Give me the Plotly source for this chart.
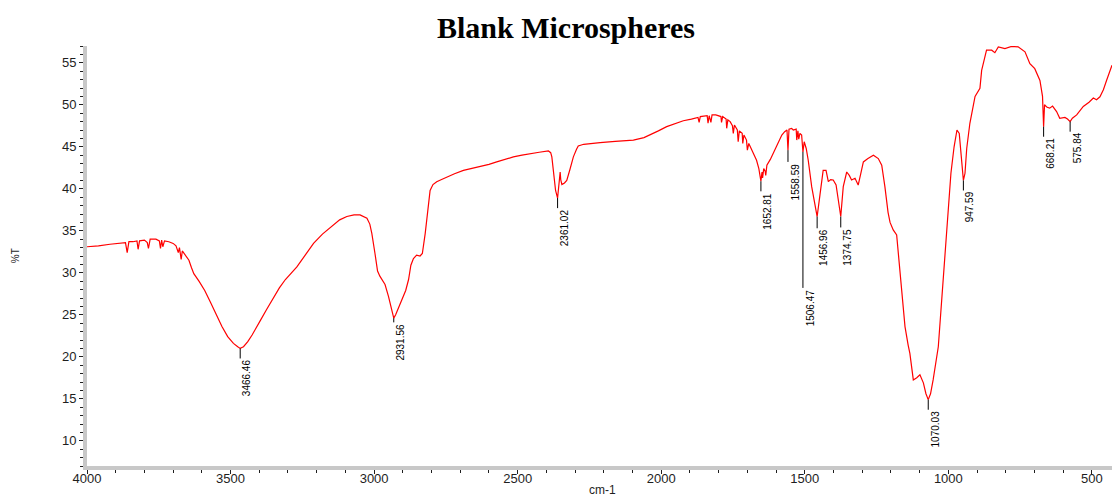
import numpy as np
import plotly.graph_objects as go

# FTIR spectrum of blank microspheres: wavenumber (cm-1) and transmittance (%T)
wavenumber = [
    4000, 3960, 3920, 3900, 3880, 3866, 3860, 3854, 3840, 3826, 3822, 3817,
    3800, 3790, 3786, 3780, 3760, 3748, 3744, 3740, 3736, 3730, 3715, 3700,
    3690, 3682, 3678, 3672, 3668, 3655, 3645, 3636, 3628, 3610, 3590, 3570,
    3550, 3530, 3510, 3490, 3475, 3466.46, 3455, 3440, 3425, 3414, 3395, 3375,
    3350, 3330, 3309, 3290, 3269, 3240, 3211, 3180, 3142, 3120, 3095, 3070,
    3049, 3035, 3025, 3015, 3008, 2997, 2988, 2980, 2972, 2962, 2950, 2940,
    2931.56, 2925, 2915, 2900, 2890, 2880, 2872, 2863, 2852, 2840, 2832, 2822,
    2812, 2805, 2795, 2782, 2765, 2747, 2720, 2689, 2660, 2631, 2600, 2573,
    2545, 2515, 2485, 2457, 2425, 2393, 2385, 2381, 2375, 2368, 2361.02, 2358,
    2355, 2352, 2350, 2346, 2337, 2329, 2318, 2306, 2295, 2289, 2270, 2247,
    2213, 2160, 2097, 2060, 2039, 2010, 1981, 1950, 1923, 1895, 1872, 1868,
    1864, 1840, 1837, 1833, 1827, 1823, 1810, 1792, 1790, 1786, 1774, 1772,
    1768, 1760, 1752, 1749, 1745, 1735, 1732, 1728, 1718, 1716, 1712, 1703,
    1700, 1695, 1685, 1675, 1668, 1660, 1655, 1652.81, 1649, 1647, 1643, 1638,
    1636, 1632, 1620, 1610, 1595, 1580, 1570, 1562, 1558.59, 1555, 1546, 1540,
    1530, 1528, 1524, 1521, 1517, 1511, 1506.47, 1502, 1495, 1488, 1476, 1464,
    1456.96, 1447, 1436, 1426, 1418, 1410, 1401, 1391, 1384, 1377, 1374.75, 1366,
    1354, 1345, 1337, 1325, 1314, 1305, 1296, 1280, 1261, 1244, 1232, 1221,
    1210, 1203, 1192, 1180, 1174, 1163, 1151, 1140, 1134, 1122, 1110, 1099,
    1087, 1078, 1070.03, 1062, 1053, 1035, 1018, 1006, 991, 980, 970, 962,
    956, 947.59, 942, 936, 925, 907, 890, 884, 867, 849, 838, 826,
    803, 780, 757, 733, 716, 699, 681, 672, 668.21, 665, 656, 647,
    637, 623, 612, 594, 585, 575.84, 568, 553, 530, 510, 495, 484,
    472, 460, 449, 440, 430,
]
transmittance = [
    33.1, 33.2, 33.4, 33.5, 33.6, 33.6, 32.4, 33.7, 33.7, 33.8, 32.8, 33.8,
    33.9, 33.6, 32.9, 34.0, 34.0, 33.8, 32.9, 33.9, 33.1, 33.8, 33.7, 33.5,
    33.2, 32.4, 33.0, 31.6, 32.6, 32.0, 31.5, 30.6, 29.9, 29.0, 27.9, 26.5,
    25.0, 23.6, 22.4, 21.6, 21.2, 21.0, 21.2, 21.8, 22.6, 23.2, 24.4, 25.6,
    27.1, 28.2, 29.2, 29.9, 30.7, 32.1, 33.5, 34.6, 35.7, 36.3, 36.7, 36.9,
    36.9, 36.7, 36.5, 35.8, 34.7, 32.3, 30.2, 29.6, 29.2, 28.6, 27.2, 25.6,
    24.6, 25.0, 25.8, 26.9, 27.9, 29.2, 30.9, 31.7, 32.1, 32.0, 32.3, 34.7,
    38.0, 39.8, 40.5, 40.85, 41.1, 41.4, 41.8, 42.2, 42.4, 42.6, 42.9, 43.2,
    43.5, 43.8, 44.0, 44.2, 44.35, 44.5, 44.3, 43.8, 42.0, 39.8, 38.9, 39.7,
    40.6, 42.0, 41.1, 40.5, 40.7, 41.0, 42.3, 43.8, 44.7, 45.1, 45.3, 45.35,
    45.5, 45.65, 45.8, 46.1, 46.4, 46.9, 47.4, 47.8, 48.1, 48.3, 48.5, 47.9,
    48.6, 48.7, 47.8, 48.7, 47.9, 48.8, 48.8, 48.6, 47.9, 48.6, 48.3, 47.2,
    48.2, 48.0, 47.5, 46.6, 47.6, 47.0, 45.6, 46.9, 46.6, 45.4, 46.4, 45.8,
    44.6, 45.4, 44.6, 43.8, 43.4, 42.4, 41.2, 40.9, 42.0, 41.3, 42.4, 42.1,
    41.6, 42.8, 43.5, 44.2, 45.4, 46.4, 46.8, 47.0, 44.6, 47.1, 47.2, 47.0,
    47.1, 45.8, 46.9, 45.9, 46.6, 46.4, 44.4, 45.6, 44.8, 43.4, 40.25, 38.1,
    36.7, 39.3, 42.2, 42.2, 40.85, 41.1, 41.05, 40.45, 38.6, 36.9, 36.7, 40.25,
    42.0, 41.6, 41.05, 41.25, 40.45, 41.8, 43.2, 43.6, 44.0, 43.6, 42.8, 40.25,
    37.2, 36.0, 35.1, 34.5, 32.3, 27.6, 23.6, 21.4, 20.4, 17.25, 17.5, 17.85,
    16.9, 15.6, 14.9, 15.6, 17.25, 21.2, 29.15, 34.7, 41.85, 45.0, 47.0, 46.6,
    43.8, 41.0, 41.85, 44.8, 47.8, 51.0, 51.95, 54.1, 56.5, 56.5, 56.2, 56.9,
    56.7, 56.95, 56.9, 56.3, 54.9, 54.3, 52.9, 51.0, 47.4, 50.0, 49.7, 49.6,
    49.85, 49.2, 48.4, 48.5, 48.3, 48.0, 48.4, 48.8, 49.8, 50.3, 50.8, 50.6,
    50.95, 51.8, 52.9, 53.8, 54.7,
]

# Picked peaks (cm-1) and the length of each marker line below the curve (%T)
peak_wavenumbers = [3466.46, 2931.56, 2361.02, 1652.81, 1558.59, 1506.47,
                    1456.96, 1374.75, 1070.03, 947.59, 668.21, 575.84]
marker_drop = [1.2, 0.5, 1.2, 1.2, 1.4, 16.2, 1.4, 1.3, 1.2, 1.2, 1.2, 1.2]

x_ticks = [4000, 3500, 3000, 2500, 2000, 1500, 1000, 500]
y_ticks = [10, 15, 20, 25, 30, 35, 40, 45, 50, 55]

LABEL_FONT = "Liberation Sans, Arial, Helvetica, sans-serif"
AXIS_GREY = "#c8c8c8"
INK = "#1e1e1e"

wn = np.array(wavenumber, dtype=float)
tr = np.array(transmittance, dtype=float)
peaks = np.array(peak_wavenumbers, dtype=float)
peak_top = np.interp(peaks, wn[::-1], tr[::-1])
peak_bottom = peak_top - np.array(marker_drop)

fig = go.Figure()

fig.add_trace(go.Scatter(
    x=wn, y=tr, mode="lines",
    line=dict(color="#ff0000", width=1.2),
    hoverinfo="skip",
))

# vertical peak marker lines
mx, my = [], []
for p, top, bot in zip(peaks, peak_top, peak_bottom):
    mx += [p, p, None]
    my += [top, bot, None]
fig.add_trace(go.Scatter(
    x=mx, y=my, mode="lines",
    line=dict(color="#000000", width=1),
    hoverinfo="skip",
))

# rotated peak labels under each marker
for p, bot in zip(peaks, peak_bottom):
    fig.add_annotation(
        x=p, y=bot, xref="x", yref="y",
        text=f"{p:.2f}", showarrow=False,
        textangle=-90, xanchor="center", yanchor="top",
        xshift=7, yshift=1,
        font=dict(family=LABEL_FONT, size=10, color="#000000"),
    )

axis_common = dict(
    showgrid=False, zeroline=False,
    showline=True, linecolor=AXIS_GREY, linewidth=4,
    ticks="outside", tickcolor=INK, tickwidth=1, ticklen=4,
    tickfont=dict(family=LABEL_FONT, size=13, color=INK),
)

fig.update_xaxes(
    range=[4000, 430], tickmode="array", tickvals=x_ticks,
    ticktext=[str(v) for v in x_ticks],
    ticklabelstandoff=-7,
    minor=dict(dtick=100, tick0=0, ticks="outside", ticklen=3,
               tickcolor=INK, showgrid=False),
    **axis_common,
)
fig.update_yaxes(
    range=[7, 57], tickmode="array", tickvals=y_ticks,
    ticktext=[str(v) for v in y_ticks],
    minor=dict(dtick=1, tick0=0, ticks="outside", ticklen=3,
               tickcolor=INK, showgrid=False),
    **axis_common,
)

fig.add_annotation(
    text="cm-1", xref="paper", yref="paper", x=0.503, y=-0.057,
    showarrow=False, xanchor="center", yanchor="middle",
    font=dict(family=LABEL_FONT, size=12, color=INK),
)
fig.add_annotation(
    text="%T", xref="paper", yref="paper", x=-0.070, y=0.5,
    showarrow=False, textangle=-90, xanchor="center", yanchor="middle",
    font=dict(family=LABEL_FONT, size=10, color=INK),
)

fig.update_layout(
    width=1112, height=499,
    margin=dict(l=87, r=0, t=46, b=33),
    paper_bgcolor="white", plot_bgcolor="white",
    showlegend=False,
    title=dict(
        text="<b>Blank Microspheres</b>",
        x=566 / 1112, xref="container", xanchor="center",
        y=1 - 27 / 499, yref="container", yanchor="middle",
        font=dict(family="Liberation Serif, Times New Roman, serif",
                  size=30, color="#000000"),
    ),
)

fig.write_html("out.html")
